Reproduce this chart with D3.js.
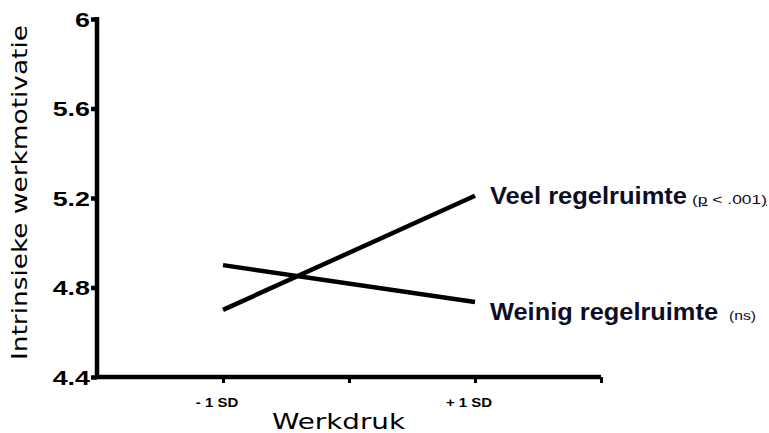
<!DOCTYPE html>
<html>
<head>
<meta charset="utf-8">
<script src="https://cdn.jsdelivr.net/npm/d3@7"></script>
<style>
  body { margin: 0; background: #fff; }
  svg { display: block; }
</style>
</head>
<body>
<div id="chart"></div>
<script>
// data
var xPos = [1, 3];                 // -1 SD, +1 SD
var xTicks = [1, 2, 3, 4];
var xLabelTicks = [1, 3];
var xTickLabels = ["- 1 SD", "+ 1 SD"];
var yTicks = [4.4, 4.8, 5.2, 5.6, 6];
var veel = [4.70, 5.21];
var weinig = [4.90, 4.735];
var seriesNames = ["Veel regelruimte", "Weinig regelruimte"];
var seriesNotes = ["(p < .001)", "(ns)"];

var width = 769, height = 433;
var boldFont = "'Liberation Sans', Arial, sans-serif";

var svg = d3.select("#chart").append("svg")
    .attr("width", width)
    .attr("height", height)

var x = d3.scaleLinear().domain([0, 4]).range([97, 601]);
var y = d3.scaleLinear().domain([4.4, 6]).range([377, 19]);

// x axis (ticks only, labels drawn below)
var xAxis = svg.append("g")
    .attr("transform", "translate(0," + y(4.4) + ")")
    .call(d3.axisBottom(x).tickValues(xTicks).tickSize(6).tickFormat(""));
xAxis.select(".domain").attr("stroke-width", 4.5).attr("d", "M" + (x(0) - 2) + ",0H" + x(4));
xAxis.selectAll(".tick line").attr("stroke-width", 3);

svg.append("g").selectAll("text")
    .data(xLabelTicks)
    .enter().append("text")
    .attr("transform", function(d) { return "translate(" + (x(d) - 6) + ",407) scale(1.2,1)"; })
    .attr("text-anchor", "middle")
    .attr("font-family", boldFont)
    .attr("font-weight", "bold")
    .attr("font-size", 12.5)
    .attr("fill", "#000")
    .text(function(d, i) { return xTickLabels[i]; });

// y axis
var yAxis = svg.append("g")
    .attr("transform", "translate(" + x(0) + ",0)")
    .call(d3.axisLeft(y).tickValues(yTicks).tickSize(6).tickFormat(""));
yAxis.select(".domain").attr("stroke-width", 4.5).attr("d", "M0," + (y(6) - 2) + "V" + (y(4.4) + 2));
yAxis.selectAll(".tick line").attr("stroke-width", 4.5);

svg.append("g").selectAll("text")
    .data(yTicks)
    .enter().append("text")
    .attr("transform", function(d) { return "translate(90," + (y(d) + 7.5) + ") scale(1.28,1)"; })
    .attr("text-anchor", "end")
    .attr("font-family", boldFont)
    .attr("font-weight", "bold")
    .attr("font-size", 21)
    .attr("fill", "#000")
    .text(function(d) { return d3.format("")(d); });

// lines
var line = d3.line()
    .x(function(d, i) { return x(xPos[i]); })
    .y(function(d) { return y(d); });

[veel, weinig].forEach(function(s) {
    svg.append("path")
        .attr("d", line(s))
        .attr("fill", "none")
        .attr("stroke", "#000")
        .attr("stroke-width", 4.5);
});

// series labels
var labelY = [y(veel[1]) + 8, y(weinig[1]) + 18];
var labelX = x(3) + 15;
var nameLen = [197, 228];
var noteX = [692, 729];
var noteLen = [75, 27];

seriesNames.forEach(function(name, i) {
    svg.append("text")
        .attr("x", labelX)
        .attr("y", labelY[i])
        .attr("textLength", nameLen[i])
        .attr("lengthAdjust", "spacingAndGlyphs")
        .attr("font-family", boldFont)
        .attr("font-weight", "bold")
        .attr("font-size", 23)
        .attr("fill", "#0d0d26")
        .text(name);
});

// notes (p underlined)
var n0 = svg.append("text")
    .attr("x", noteX[0]).attr("y", labelY[0])
    .attr("textLength", noteLen[0])
    .attr("lengthAdjust", "spacingAndGlyphs")
    .attr("font-family", boldFont)
    .attr("font-size", 13)
    .attr("fill", "#0d0d26");
n0.append("tspan").text("(");
n0.append("tspan").style("text-decoration", "underline").text("p");
n0.append("tspan").text(" < .001");
n0.append("tspan").style("text-decoration", "underline").text(")");

svg.append("text")
    .attr("x", noteX[1]).attr("y", labelY[1])
    .attr("textLength", noteLen[1])
    .attr("lengthAdjust", "spacingAndGlyphs")
    .attr("font-family", boldFont)
    .attr("font-size", 13)
    .attr("fill", "#0d0d26")
    .text(seriesNotes[1]);

// axis titles
svg.append("text")
    .attr("x", 272)
    .attr("y", 429)
    .attr("textLength", 133)
    .attr("lengthAdjust", "spacingAndGlyphs")
    .attr("font-family", "'DejaVu Sans', Verdana, sans-serif")
    .attr("font-size", 21)
    .attr("fill", "#000")
    .text("Werkdruk");

svg.append("text")
    .attr("transform", "translate(27,360) rotate(-90)")
    .attr("textLength", 335)
    .attr("lengthAdjust", "spacingAndGlyphs")
    .attr("font-family", "'DejaVu Sans', Verdana, sans-serif")
    .attr("font-size", 21)
    .attr("fill", "#000")
    .text("Intrinsieke werkmotivatie");
</script>
</body>
</html>
